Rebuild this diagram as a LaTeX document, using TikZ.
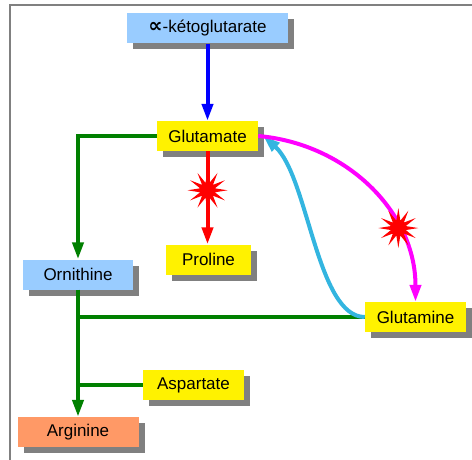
\documentclass[tikz,border=0pt]{standalone}
\usepackage{fontspec}
\setmainfont{Liberation Sans}
\newfontfamily\symbfont{DejaVu Sans}
\usetikzlibrary{arrows.meta,shapes.geometric,shadows}
\definecolor{bleuclair}{HTML}{99CCFF}
\definecolor{saumon}{HTML}{FF9966}
\definecolor{turquoise}{HTML}{33B5E0}
\definecolor{vert}{HTML}{008000}
\definecolor{rose}{HTML}{FF00FF}
\tikzset{
>={Triangle[length=17pt,width=11pt]},
  substrat/.style={
    rectangle,
    minimum height=30pt,
    inner sep=0pt,
    text centered,
    font=\fontsize{17}{20}\selectfont,
    drop shadow={shadow xshift=6pt, shadow yshift=-6pt, fill=black!50, opacity=1}},
  flux/.style={draw, line width=4pt},
  blocage/.style={
    star, star points=12, star point ratio=2.6,
    fill=red, minimum size=40pt, inner sep=0pt},
}

\begin{document}
\begin{tikzpicture}
[x=1pt, y=1pt]
    \useasboundingbox (0,0) rectangle (472,-460);
    \draw[gray, line width=2pt] (9.5,-460) -- (9.5,-5) -- (472,-5);

    \node [substrat, fill=bleuclair, minimum width=161pt](keto) at (207.5,-28.5)
                                                        {{\symbfont\bfseries\fontsize{20}{20}\selectfont ∝}-kétoglutarate};
    \node [substrat, fill=yellow, minimum width=101pt](glu) at (207.5,-136){Glutamate};
    \node [substrat, fill=yellow, minimum width=85pt](pro) at (208.5,-259.5){Proline};
    \node [substrat, fill=bleuclair, minimum width=110pt](orn) at (78,-274.5){Ornithine};
    \node [substrat, fill=yellow, minimum width=101pt](asp) at (193.5,-385){Aspartate};
    \node [substrat, fill=saumon, minimum width=121pt](arg) at (78,-432){Arginine};
    \node [substrat, fill=yellow, minimum width=101pt](gln) at (415.5,-317){Glutamine};

    \draw[flux, blue, ->] (keto.south) -- (glu.north);
    \draw[flux, red, ->] (glu.south) -- node[blocage, pos=0.42]{} (glu.south |- pro.north);
    \draw[flux, vert, ->] (glu.west) -| (orn.north);
    \draw[flux, vert, ->] (orn.south) -- (arg.north);
    \draw[flux, vert] (gln.west) -- (gln.west -| orn.south);
    \draw[flux, vert] (asp.west) -- (asp.west -| orn.south);
    \draw[flux, turquoise, ->] (gln.west) .. controls +(-48,0) and +(45,-40) .. ([xshift=5pt]glu.east);
    \draw[flux, rose, ->] (glu.east) to[out=-5, in=90] node[blocage, pos=0.7]{} (gln.north);

\end{tikzpicture}
\end{document}
